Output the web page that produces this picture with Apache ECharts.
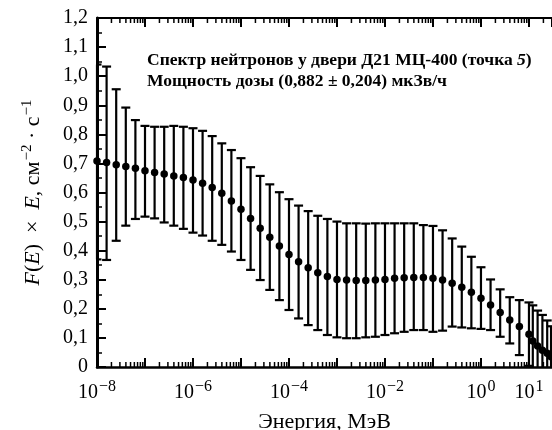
<!DOCTYPE html>
<html>
<head>
<meta charset="utf-8">
<script src="https://cdn.jsdelivr.net/npm/echarts@6.0.0/dist/echarts.min.js"></script>
<style>
  html, body { margin: 0; padding: 0; background: #fff; }
  #main { width: 552px; height: 430px; }
</style>
</head>
<body>
<div id="main"></div>
<script type="text/javascript">
// показатель степени энергии (lg E, МэВ) для каждой точки
var logE = [-8.0, -7.8, -7.6, -7.4, -7.2, -7.0, -6.8, -6.6, -6.4, -6.2,
            -6.0, -5.8, -5.6, -5.4, -5.2, -5.0, -4.8, -4.6, -4.4, -4.2,
            -4.0, -3.8, -3.6, -3.4, -3.2, -3.0, -2.8, -2.6, -2.4, -2.2,
            -2.0, -1.8, -1.6, -1.4, -1.2, -1.0, -0.8, -0.6, -0.4, -0.2,
             0.0,  0.2,  0.4,  0.6,  0.8,  1.0,  1.08, 1.18, 1.28, 1.38, 1.46];
// F(E)*E - центральные значения
var fluence = [0.708, 0.703, 0.695, 0.689, 0.683, 0.675, 0.669, 0.664, 0.657, 0.652,
               0.643, 0.632, 0.617, 0.597, 0.571, 0.542, 0.511, 0.477, 0.446, 0.416,
               0.387, 0.362, 0.341, 0.324, 0.311, 0.301, 0.299, 0.297, 0.297, 0.299,
               0.301, 0.305, 0.307, 0.308, 0.308, 0.305, 0.299, 0.288, 0.274, 0.257,
               0.236, 0.213, 0.187, 0.162, 0.139, 0.113, 0.089, 0.072, 0.058, 0.047, 0.035];
// верхняя граница погрешности
var upper = [1.040, 1.033, 0.955, 0.892, 0.849, 0.829, 0.826, 0.826, 0.829, 0.826,
             0.821, 0.812, 0.794, 0.769, 0.746, 0.718, 0.687, 0.657, 0.628, 0.601,
             0.577, 0.555, 0.536, 0.520, 0.509, 0.500, 0.494, 0.494, 0.493, 0.494,
             0.494, 0.494, 0.494, 0.494, 0.488, 0.485, 0.470, 0.442, 0.414, 0.379,
             0.343, 0.301, 0.267, 0.240, 0.230, 0.222, 0.212, 0.194, 0.179, 0.160, 0.140];
// нижняя граница погрешности
var lower = [0.370, 0.368, 0.434, 0.486, 0.509, 0.517, 0.511, 0.497, 0.486, 0.475,
             0.462, 0.452, 0.434, 0.420, 0.397, 0.368, 0.334, 0.299, 0.265, 0.230,
             0.196, 0.167, 0.144, 0.127, 0.110, 0.102, 0.099, 0.099, 0.102, 0.104,
             0.110, 0.116, 0.121, 0.127, 0.127, 0.121, 0.125, 0.139, 0.136, 0.133,
             0.131, 0.127, 0.104, 0.081, 0.041, 0.004, -0.03, -0.04, -0.06, -0.07, -0.08];
// подписанные степени по оси X
var xLabelPowers = [-8, -6, -4, -2, 0, 1];

var serif = '"Liberation Serif", "DejaVu Serif", serif';

var points = [], bars = [];
for (var i = 0; i < logE.length; i++) {
    var e = Math.pow(10, logE[i]);
    points.push([e, fluence[i]]);
    bars.push([e, lower[i], upper[i]]);
}

// мелкие деления логарифмической шкалы (2..9 в каждой декаде)
var minorTicks = [];
for (var k = -8; k <= 1; k++) {
    for (var m = 2; m <= 9; m++) {
        minorTicks.push([m * Math.pow(10, k), 0]);
    }
}

var xMax = Math.pow(10, 1.48);

var chart = echarts.init(document.getElementById('main'));
chart.setOption({
    animation: false,
    grid: { left: 97, right: 0, top: 18, bottom: 63, containLabel: false, outerBoundsMode: 'none' },
    xAxis: [{
        type: 'log', logBase: 10, min: 1e-8, max: xMax, interval: 1,
        name: 'Энергия, МэВ', nameLocation: 'middle', nameGap: 44,
        nameTextStyle: { fontFamily: serif, fontSize: 22, color: '#000' },
        axisLine: { lineStyle: { color: '#000', width: 2.5 } },
        axisTick: { inside: true, length: 9, lineStyle: { color: '#000', width: 2 } },
        splitLine: { show: false },
        axisLabel: {
            margin: 12, color: '#000', fontFamily: serif, fontSize: 20,
            formatter: function (v) {
                var p = Math.round(Math.log(v) / Math.LN10);
                if (Math.abs(Math.log(v) / Math.LN10 - p) > 1e-6) return '';
                if (xLabelPowers.indexOf(p) < 0) return '';
                return '{b|10}{s|' + (p < 0 ? '\u2212' + (-p) : p) + '}';
            },
            rich: {
                b: { fontFamily: serif, fontSize: 20, color: '#000' },
                s: { fontFamily: serif, fontSize: 16, color: '#000', padding: [0, 0, 11, 1] }
            }
        }
    }, {
        type: 'log', logBase: 10, min: 1e-8, max: xMax, interval: 1, position: 'top',
        axisLine: { lineStyle: { color: '#000', width: 2 } },
        axisTick: { inside: true, length: 9, lineStyle: { color: '#000', width: 2 } },
        axisLabel: { show: false },
        splitLine: { show: false }
    }],
    yAxis: {
        type: 'value', min: 0, max: 1.2, interval: 0.1,
        name: '{i|F}({i|E}) \u00a0\u00d7\u00a0 {i|E}, см{s|\u22122}\u00a0\u00b7\u00a0с{s|\u22121}',
        nameLocation: 'middle', nameGap: 50, nameRotate: 90,
        nameTextStyle: {
            fontFamily: serif, fontSize: 22, color: '#000',
            rich: {
                i: { fontFamily: serif, fontSize: 22, fontStyle: 'italic', color: '#000' },
                s: { fontFamily: serif, fontSize: 15, color: '#000', padding: [0, 0, 12, 1] }
            }
        },
        axisLine: { show: true, lineStyle: { color: '#000', width: 3 } },
        axisTick: { inside: true, length: 9, lineStyle: { color: '#000', width: 2 } },
        minorTick: { show: true, splitNumber: 2, length: 5, lineStyle: { color: '#000', width: 1.5 } },
        splitLine: { show: false },
        axisLabel: {
            margin: 9, color: '#000', fontFamily: serif, fontSize: 20,
            formatter: function (v) {
                if (v === 0) return '0';
                return v.toFixed(1).replace('.', ',');
            }
        }
    },
    graphic: [{
        type: 'text', left: 147, top: 51,
        style: {
            text: 'Спектр нейтронов у двери Д21 МЦ-400 (точка {it|5})',
            fontFamily: serif, fontSize: 17.5, fontWeight: 'bold', fill: '#000',
            rich: { it: { fontFamily: serif, fontSize: 17.5, fontWeight: 'bold', fontStyle: 'italic', fill: '#000' } }
        }
    }, {
        type: 'text', left: 147, top: 72,
        style: {
            text: 'Мощность дозы (0,882 \u00b1 0,204) мкЗв/ч',
            fontFamily: serif, fontSize: 17.5, fontWeight: 'bold', fill: '#000'
        }
    }],
    series: [{
        // мелкие деления сверху и снизу
        type: 'custom',
        silent: true,
        data: minorTicks,
        renderItem: function (params, api) {
            var x = api.coord([api.value(0), 0])[0];
            var cs = params.coordSys;
            if (x <= cs.x + 1 || x >= cs.x + cs.width) return;
            var y0 = cs.y + cs.height, y1 = cs.y;
            var st = { stroke: '#000', lineWidth: 1.5 };
            return {
                type: 'group',
                children: [
                    { type: 'line', shape: { x1: x, y1: y0, x2: x, y2: y0 - 5 }, style: st },
                    { type: 'line', shape: { x1: x, y1: y1, x2: x, y2: y1 + 5 }, style: st }
                ]
            };
        }
    }, {
        // погрешности
        type: 'custom',
        data: bars,
        encode: { x: 0, y: [1, 2] },
        renderItem: function (params, api) {
            var xv = api.value(0);
            var lo = api.value(1), hi = api.value(2);
            var cs = params.coordSys;
            var pLo = api.coord([xv, Math.max(lo, 0)]);
            var pHi = api.coord([xv, hi]);
            var w = 4.5;
            // колпачки не выходят за левую ось
            var xa = Math.max(pHi[0] - w, cs.x), xb = pHi[0] + w;
            var st = { stroke: '#000', lineWidth: 2.2 };
            var children = [
                { type: 'line', shape: { x1: pLo[0], y1: pLo[1], x2: pHi[0], y2: pHi[1] }, style: st },
                { type: 'line', shape: { x1: xa, y1: pHi[1], x2: xb, y2: pHi[1] }, style: st }
            ];
            if (lo > 0) {
                children.push({ type: 'line', shape: { x1: xa, y1: pLo[1], x2: xb, y2: pLo[1] }, style: st });
            }
            return { type: 'group', children: children };
        }
    }, {
        type: 'scatter',
        data: points,
        symbol: 'circle',
        symbolSize: 7.5,
        itemStyle: { color: '#000', opacity: 1 },
        clip: false
    }]
});
</script>
</body>
</html>
